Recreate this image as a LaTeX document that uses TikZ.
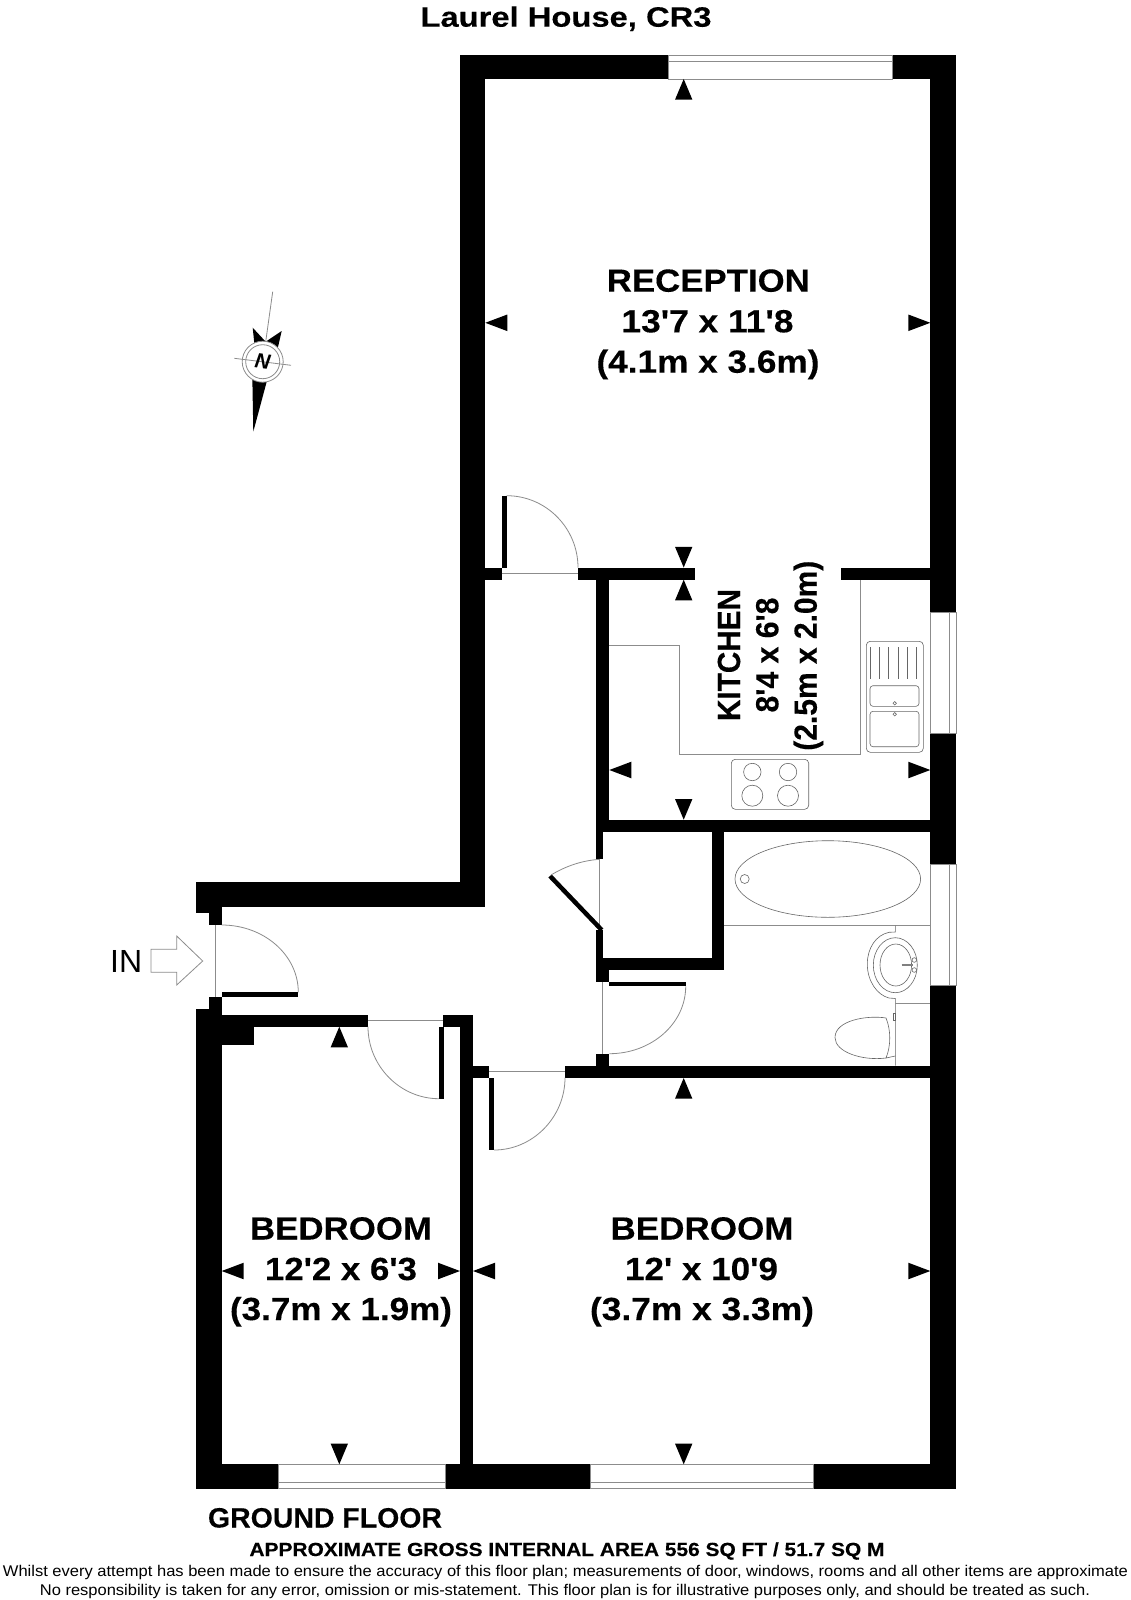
\documentclass[tikz,border=0pt]{standalone}
\usepackage{fontspec}
\setmainfont{Liberation Sans}[BoldFeatures={FakeBold=0.25}]
\newcommand\fitw[2]{\resizebox{#1pt}{\height}{#2}}
\newcommand\ap{\textquotesingle}
\newcommand\wall[4]{\fill[black] (#1,#2) rectangle (#3,#4);}
\newcommand\tipU[2]{\fill[black] (#1,#2) -- ({#1-8.7},{#2+20.7}) -- ({#1+8.7},{#2+20.7}) -- cycle;}
\newcommand\tipD[2]{\fill[black] (#1,#2) -- ({#1-8.7},{#2-20.7}) -- ({#1+8.7},{#2-20.7}) -- cycle;}
\newcommand\tipL[2]{\fill[black] (#1,#2) -- ({#1+22},{#2-8.3}) -- ({#1+22},{#2+8.3}) -- cycle;}
\newcommand\tipR[2]{\fill[black] (#1,#2) -- ({#1-22},{#2-8.3}) -- ({#1-22},{#2+8.3}) -- cycle;}
\tikzset{
  roomtext/.style={anchor=base,inner sep=0pt,outer sep=0pt,font=\fontsize{32}{36}\selectfont\bfseries},
  kitchentext/.style={roomtext,rotate=90},
  thin line/.style={draw=black!45,line width=0.8pt},
  fixture/.style={draw=black!60,line width=0.6pt},
  glazing/.style={fill=white,draw=black!45,line width=0.8pt},
}
\begin{document}
\begin{tikzpicture}[x=1pt,y=-1pt]
\useasboundingbox (0,0) rectangle (1131,1600);
\fill[white] (0,0) rectangle (1131,1600);

% outer and inner walls
\wall{460}{55}{668.6}{79}
\wall{892}{55}{956}{79}
\wall{460}{55}{485.3}{906.7}
\wall{930.3}{55}{956}{612}
\wall{930.3}{733.3}{956}{864.3}
\wall{930.3}{985.3}{956}{1488.7}
\wall{813.3}{1464.3}{956}{1488.7}
\wall{445.7}{1464.3}{590}{1488.7}
\wall{196}{1464.3}{278.7}{1488.7}
\wall{196}{1008.7}{221.7}{1488.7}
\wall{208.7}{996.7}{221.7}{1010}
\wall{196}{882.3}{485.3}{906.7}
\wall{196}{906}{221.7}{912.7}
\wall{208.7}{912}{221.7}{925}
\wall{221.7}{1015}{368}{1026.7}
\wall{221.7}{1026}{253.7}{1045}
\wall{443.3}{1015}{472.7}{1026.7}
\wall{460}{1015}{473}{1465}
\wall{472.7}{1065.7}{489}{1077.7}
\wall{565}{1065.7}{930.5}{1078}
\wall{596.3}{1053.7}{609.3}{1066}
\wall{596.3}{970}{609.3}{982.3}
\wall{596.3}{930}{603}{970.3}
\wall{596.3}{957.7}{724.3}{970.3}
\wall{711.7}{832}{724.3}{970.3}
\wall{596.3}{832}{603}{859.3}
\wall{596.3}{819.7}{930.5}{832}
\wall{596.3}{579.7}{609.3}{820}
\wall{578}{567.5}{695}{579.7}
\wall{841}{567.5}{930.5}{579.7}
\wall{485}{567.7}{501.7}{579.7}

% windows
\draw[glazing] (668.6,55) rectangle (892,79);
\draw[thin line] (668.6,61) -- (892,61);
\draw[glazing] (278.7,1464.3) rectangle (445.7,1488.7);
\draw[thin line] (278.7,1482.7) -- (445.7,1482.7);
\draw[glazing] (590,1464.3) rectangle (813.3,1488.7);
\draw[thin line] (590,1482.7) -- (813.3,1482.7);
\draw[glazing] (930.3,612) rectangle (956,733.3);
\draw[thin line] (949.3,612) -- (949.3,733.3);
\draw[glazing] (930.3,864.3) rectangle (956,985.3);
\draw[thin line] (949.3,864.3) -- (949.3,985.3);

% doors
\draw[thin line] (215.3,925) -- (215.3,996.7);
\wall{221.7}{992.3}{298.3}{997}
\draw[thin line] (221.7,925) .. controls (264,925) and (298.3,955) .. (298.3,992.3);

\draw[thin line] (368,1020.7) -- (443.3,1020.7);
\wall{439}{1026.7}{444}{1098.7}
\draw[thin line] (368,1026.7) .. controls (368,1066) and (400,1098.7) .. (439,1098.7);

\draw[thin line] (489,1071.7) -- (565,1071.7);
\wall{488.7}{1077.7}{494}{1150}
\draw[thin line] (494,1150) .. controls (533,1150) and (565,1117) .. (565,1077.7);

\draw[thin line] (501.7,573.7) -- (578,573.7);
\wall{501.7}{495.7}{506.7}{567.7}
\draw[thin line] (506.7,495.7) .. controls (546,495.7) and (578,528) .. (578,567.7);

\draw[thin line] (599.7,859.3) -- (599.7,930);
\draw[line width=4.5pt,black] (550,876) -- (601.7,930);
\draw[thin line] (551,875) .. controls (566,866) and (582,860.5) .. (599.7,859.3);

\draw[thin line] (602.7,982.3) -- (602.7,1053.7);
\wall{609.3}{982}{685.7}{986.3}
\draw[thin line] (685.7,986.3) .. controls (685.7,1024) and (651,1053.7) .. (609.3,1053.7);

% entrance arrow
\draw[thin line,line join=miter] (151,949.3) -- (176.7,949.3) -- (176.7,936) -- (202.7,961) -- (176.7,985) -- (176.7,972.3) -- (151,972.3) -- cycle;
\node[anchor=base west,inner sep=0pt,font=\fontsize{32}{36}\selectfont] (entry) at (110,972.7) {\fitw{32}{IN}};

% kitchen units
\draw[thin line] (609.3,645.7) -- (679.7,645.7) -- (679.7,754) -- (860.7,754) -- (860.7,579.7);
\draw[fixture,rounded corners=4pt] (866.3,641.3) rectangle (923.3,752.3);
\foreach \xx in {870,879.3,888.7,898.3,907.3,916.7} \draw[fixture] (\xx,647) -- (\xx,679);
\draw[fixture,rounded corners=3pt] (870,685.7) rectangle (919,706.3);
\draw[fixture,rounded corners=3pt] (870,711.3) rectangle (919,746.7);
\draw[fixture] (894.7,703.3) circle (1.7);
\draw[fixture] (894.7,714.3) circle (1.7);
\draw[fixture,rounded corners=4pt] (731.3,759.3) rectangle (808.7,809.3);
\draw[fixture] (752.3,772) circle (8.7);
\draw[fixture] (788,772) circle (8.7);
\draw[fixture] (752.3,795.7) circle (10.5);
\draw[fixture] (788,795.7) circle (10.5);

% bathroom fixtures
\draw[fixture] (827.8,879) ellipse (92.8 and 38.3);
\draw[fixture] (744.7,879) circle (4.5);
\draw[thin line] (724.3,925.7) -- (930.3,925.7);
\draw[fixture] (895.3,925.7) -- (895.3,932) -- (889,932.3) .. controls (876,935) and (867.3,948) .. (867.3,964) .. controls (867.3,981) and (877,995) .. (889,998) -- (895.3,998.5) -- (895.3,1065.7);
\draw[thin line] (895.3,1003.7) -- (930.3,1003.7);
\draw[fixture] (895.3,965.2) ellipse (22 and 27.5);
\draw[fixture] (895.8,965) ellipse (15.8 and 21);
\draw[line width=1.8pt,black!50] (901.7,965) -- (913,965);
\draw[fixture] (914.3,960) circle (2.3);
\draw[fixture] (914.3,970) circle (2.3);
\draw[fixture] (886,1018) .. controls (868,1015) and (835,1020) .. (835,1037.5) .. controls (835,1052) and (862,1061) .. (886,1058);
\draw[fixture] (886,1018) .. controls (891,1030) and (891,1046) .. (886,1058) -- (895.3,1056);
\draw[fixture] (893.3,1013) rectangle (895.3,1020);

% dimension marks
\tipU{683.7}{79}
\tipL{485.3}{322.8}
\tipR{930.3}{322.8}
\tipD{683.7}{567.5}
\tipU{683.7}{579.7}
\tipL{609.3}{770}
\tipR{930.3}{770}
\tipD{683.7}{819.7}
\tipU{339.3}{1026.7}
\tipU{683.7}{1078}
\tipL{221.7}{1271}
\tipR{460}{1271}
\tipL{473}{1271}
\tipR{930.3}{1271}
\tipD{339.3}{1464.3}
\tipD{683.7}{1464.3}

% north point
\fill[black] (252.7,327.7) -- (265.7,341.7) -- (281.7,331) -- (277.3,350) -- (255,350) -- cycle;
\fill[black] (252.3,376) -- (267.7,378) -- (253.3,431.7) -- cycle;
\draw[thin line] (272.7,291.7) -- (265.7,341.7);
\draw[thin line,fill=white] (262.7,361.7) circle (20.5);
\draw[thin line] (262.7,361.7) circle (17);
\draw[thin line] (234.3,358.3) -- (291,365.3);
\node[inner sep=0pt,rotate=-8,font=\fontsize{21}{23}\selectfont\bfseries\itshape] (north) at (262.7,361.7) {N};

% labels
\node[roomtext] (recA) at (708.3,291.7) {\fitw{203}{RECEPTION}};
\node[roomtext] (recB) at (707.5,332.3) {\fitw{172}{13\ap 7 x 11\ap 8}};
\node[roomtext] (recC) at (708,372.7) {\fitw{223}{(4.1m x 3.6m)}};

\node[kitchentext] (kitA) at (740,655) {\fitw{132}{KITCHEN}};
\node[kitchentext] (kitB) at (778.3,655) {\fitw{115}{8\ap 4 x 6\ap 8}};
\node[kitchentext] (kitC) at (816.7,655.7) {\fitw{190}{(2.5m x 2.0m)}};

\node[roomtext] (bedA) at (341,1239.5) {\fitw{182}{BEDROOM}};
\node[roomtext] (bedB) at (341,1280) {\fitw{152}{12\ap 2 x 6\ap 3}};
\node[roomtext] (bedC) at (341,1320) {\fitw{222}{(3.7m x 1.9m)}};

\node[roomtext] (bedD) at (702,1239.5) {\fitw{183}{BEDROOM}};
\node[roomtext] (bedE) at (701.5,1280) {\fitw{153}{12\ap\ x 10\ap 9}};
\node[roomtext] (bedF) at (702,1320) {\fitw{224}{(3.7m x 3.3m)}};

\node[anchor=base,inner sep=0pt,font=\fontsize{28}{30}\selectfont\bfseries] (title) at (566,26.7) {\fitw{291}{Laurel House, CR3}};
\node[anchor=base,inner sep=0pt,font=\fontsize{28}{30}\selectfont\bfseries] (floor) at (325,1527.5) {\fitw{234}{GROUND FLOOR}};
\node[anchor=base,inner sep=0pt,font=\fontsize{19}{21}\selectfont\bfseries] (area) at (567,1556) {\fitw{635}{APPROXIMATE GROSS INTERNAL AREA 556 SQ FT / 51.7 SQ M}};
\node[anchor=base,inner sep=0pt,font=\fontsize{15.5}{17}\selectfont] (noteA) at (565.5,1576) {\fitw{1125}{Whilst every attempt has been made to ensure the accuracy of this floor plan; measurements of door, windows, rooms and all other items are approximate}};
\node[anchor=base,inner sep=0pt,font=\fontsize{15.5}{17}\selectfont] (noteB) at (565,1595) {\fitw{1050}{No responsibility is taken for any error, omission or mis-statement. This floor plan is for illustrative purposes only, and should be treated as such.}};
\end{tikzpicture}
\end{document}
